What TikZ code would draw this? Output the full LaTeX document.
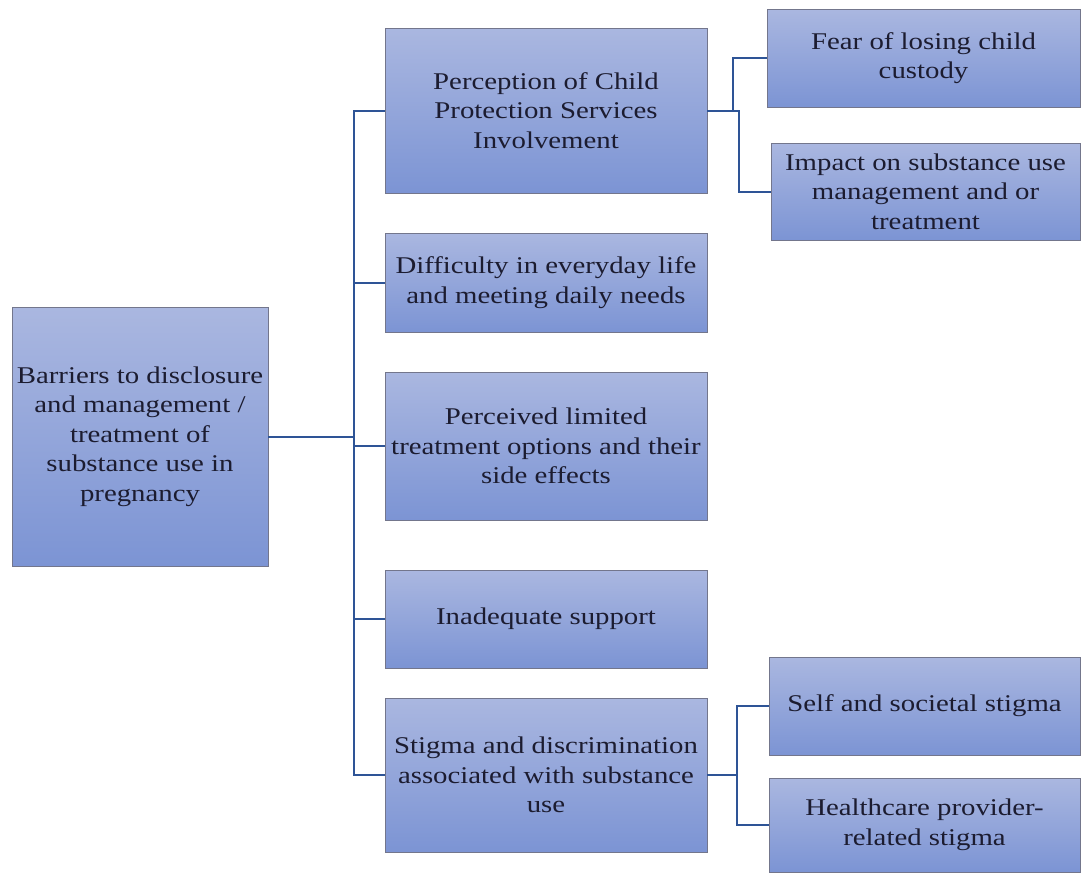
\documentclass[tikz,border=0pt]{standalone}
\usepackage{fontspec}
\setmainfont{Liberation Serif}[FakeStretch=1.2]
\definecolor{boxtop}{RGB}{170,183,224}
\definecolor{boxbot}{RGB}{124,148,212}
\definecolor{boxedge}{RGB}{115,118,140}
\definecolor{linkblue}{RGB}{46,84,150}
\definecolor{txt}{RGB}{28,28,48}
\begin{document}
\begin{tikzpicture}[x=1pt,y=-1pt,
  box/.style={rectangle, draw=boxedge, line width=0.9pt, top color=boxtop, bottom color=boxbot,
    align=center, font=\fontsize{24}{29.5}\selectfont, text=txt, inner sep=0pt},
  link/.style={draw=linkblue, line width=2pt}]
\useasboundingbox (0,0) rectangle (1081,873);
% root
\node[box, minimum width=256pt, minimum height=259pt] (root) at (140,436.5)
  {Barriers to disclosure\\and management /\\treatment of\\substance use in\\pregnancy};
% middle column
\node[box, minimum width=322pt, minimum height=165pt] (perc) at (546,110.5)
  {Perception of Child\\Protection Services\\Involvement};
\node[box, minimum width=322pt, minimum height=99pt] (diff) at (546,282.5)
  {Difficulty in everyday life\\and meeting daily needs};
\node[box, minimum width=322pt, minimum height=148pt] (treat) at (546,446)
  {Perceived limited\\treatment options and their\\side effects};
\node[box, minimum width=322pt, minimum height=98pt] (supp) at (546,619)
  {Inadequate support};
\node[box, minimum width=322pt, minimum height=154pt] (stig) at (546,775)
  {Stigma and discrimination\\associated with substance\\use};
% right column
\node[box, minimum width=313pt, minimum height=98pt] (fear) at (923.5,58)
  {Fear of losing child\\custody};
\node[box, minimum width=309pt, minimum height=97pt] (impact) at (925.5,191.5)
  {Impact on substance use\\management and or\\treatment};
\node[box, minimum width=311pt, minimum height=98pt] (self) at (924.5,706)
  {Self and societal stigma};
\node[box, minimum width=311pt, minimum height=94pt] (hcp) at (924.5,825)
  {Healthcare provider-\\related stigma};
% connectors
\coordinate (bus) at (354,436.5);
\draw[link] (root.east) -- (bus);
\draw[link] (bus) |- (perc.west);
\draw[link] (bus) |- (diff.west);
\draw[link] (bus) |- (treat.west);
\draw[link] (bus) |- (supp.west);
\draw[link] (bus) |- (stig.west);
\coordinate (pa) at (733,110.5);
\coordinate (pb) at (739,110.5);
\draw[link] (perc.east) -- (pa) |- (fear.west);
\draw[link] (perc.east) -- (pb) |- (impact.west);
\coordinate (sa) at (737,775);
\draw[link] (stig.east) -- (sa) |- (self.west);
\draw[link] (sa) |- (hcp.west);
\end{tikzpicture}
\end{document}
